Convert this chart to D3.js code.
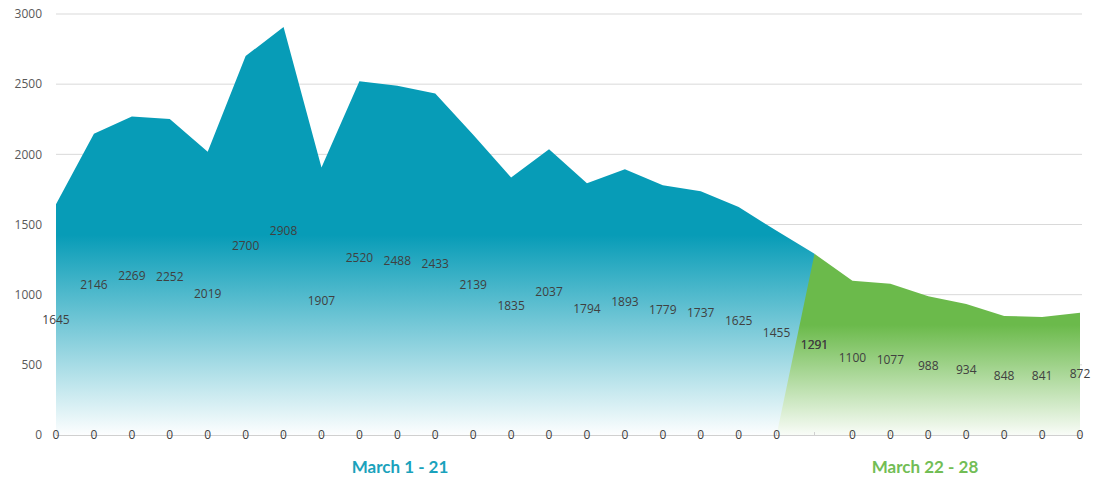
<!DOCTYPE html>
<html><head><meta charset="utf-8">
<script src="https://cdn.jsdelivr.net/npm/d3@7"></script>
<style>body{margin:0;background:#fff}svg{display:block}</style>
</head><body><svg id="c" width="1097" height="480"></svg>
<script>
const categories = d3.range(1, 29).map(d => "March " + d);
const marchEarly = [1645,2146,2269,2252,2019,2700,2908,1907,2520,2488,2433,2139,1835,2037,1794,1893,1779,1737,1625,1455,1291,0,0,0,0,0,0,0];
const marchLate  = [0,0,0,0,0,0,0,0,0,0,0,0,0,0,0,0,0,0,0,0,1291,1100,1077,988,934,848,841,872];
const yTicks = [0,500,1000,1500,2000,2500,3000];
const groupLabels = ["March 1 - 21", "March 22 - 28"];

const svg = d3.select("#c");
const x = d3.scalePoint().domain(categories).range([56, 1080]);
const y = d3.scaleLinear().domain([0, 3000]).range([435, 14]);

const defs = svg.append("defs");
function grad(id, color, solidY, fadeY) {
  const g = defs.append("linearGradient").attr("id", id).attr("gradientUnits", "userSpaceOnUse")
    .attr("x1", 0).attr("x2", 0).attr("y1", solidY).attr("y2", fadeY);
  g.append("stop").attr("offset", 0).attr("stop-color", color);
  g.append("stop").attr("offset", 1).attr("stop-color", "#ffffff");
}
grad("gBlue", "#079cb7", 235, 437);
grad("gGreen", "#6bba4b", 325, 440);

// gridlines
svg.append("g").selectAll("line").data(yTicks.slice(1)).join("line")
  .attr("x1", 56).attr("x2", 1082).attr("y1", d => y(d)).attr("y2", d => y(d))
  .attr("stroke", "#d9d9d9").attr("stroke-width", 1);

// y tick labels
svg.append("g").selectAll("text").data(yTicks).join("text")
  .attr("x", 42).attr("y", d => y(d)).attr("dy", "0.35em").attr("text-anchor", "end")
  .attr("font-family", "Open Sans, sans-serif").attr("font-size", 12).attr("fill", "#595959")
  .text(d => d);

const area = d3.area().x((d, i) => x(categories[i])).y0(y(0)).y1(d => y(d));
svg.append("path").datum(marchEarly).attr("d", area).attr("fill", "url(#gBlue)");
svg.append("path").datum(marchLate).attr("d", area).attr("fill", "url(#gGreen)");

// x axis line
svg.append("line").attr("x1", 56).attr("x2", 1082).attr("y1", y(0)+0.5).attr("y2", y(0)+0.5)
  .attr("stroke", "#d0d0d0");
svg.append("g").selectAll("line").data(categories).join("line")
  .attr("x1", d => x(d)).attr("x2", d => x(d)).attr("y1", y(0)-3).attr("y2", y(0))
  .attr("stroke", "#d0d0d0");

// data labels
function labels(data) {
  svg.append("g").selectAll("text").data(data).join("text")
    .attr("x", (d, i) => x(categories[i])).attr("y", d => y(d / 2)).attr("dy", "0.35em")
    .attr("text-anchor", "middle").attr("font-family", "Open Sans, sans-serif")
    .attr("font-size", 12).attr("fill", "#404040").text(d => d);
}
labels(marchEarly);
labels(marchLate);

// group labels
svg.append("text").attr("x", 400).attr("y", 473).attr("text-anchor", "middle")
  .attr("font-family", "Lato, sans-serif").attr("font-weight", "bold").attr("font-size", 17)
  .attr("fill", "#1aa2bc").text(groupLabels[0]);
svg.append("text").attr("x", 925).attr("y", 473).attr("text-anchor", "middle")
  .attr("font-family", "Lato, sans-serif").attr("font-weight", "bold").attr("font-size", 17)
  .attr("fill", "#72bd55").text(groupLabels[1]);
</script></body></html>
